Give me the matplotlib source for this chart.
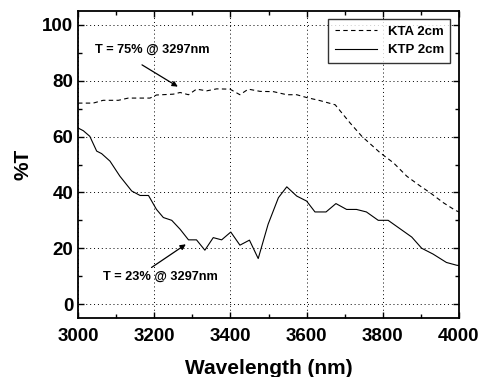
import matplotlib.pyplot as plt
from matplotlib.ticker import MultipleLocator

# KTA 2cm (dashed)
kta_wl = [3000, 3040, 3066, 3106, 3132, 3189, 3206, 3250, 3268, 3290, 3311, 3338,
          3364, 3399, 3425, 3447, 3478, 3513, 3548, 3574, 3600, 3635, 3675, 3714,
          3745, 3793, 3828, 3863, 3898, 3924, 3959, 3990, 4000]
kta_t = [72.0, 72.0, 73.0, 73.0, 73.8, 73.8, 74.9, 75.2, 75.8, 75.0, 77.0, 76.4,
         77.1, 77.0, 75.0, 77.0, 76.2, 76.1, 75.0, 75.0, 74.0, 72.9, 71.4, 64.9,
         60.1, 54.2, 50.6, 45.8, 42.3, 39.9, 36.3, 33.6, 33.0]

# KTP 2cm (solid)
ktp_wl = [3000, 3014, 3031, 3049, 3062, 3084, 3110, 3141, 3163, 3185, 3206, 3224,
          3246, 3268, 3290, 3311, 3333, 3355, 3377, 3401, 3425, 3450, 3473, 3499,
          3526, 3548, 3574, 3600, 3622, 3651, 3677, 3705, 3731, 3757, 3788, 3814,
          3845, 3876, 3902, 3932, 3967, 3994, 4000]
ktp_t = [63.1, 62.1, 60.1, 54.8, 53.9, 51.2, 45.8, 40.5, 38.9, 38.9, 33.9, 31.0,
         30.0, 26.8, 23.0, 23.0, 19.3, 23.8, 23.0, 25.8, 21.1, 22.9, 16.3, 28.6,
         38.1, 42.0, 38.7, 36.9, 33.0, 33.0, 36.0, 33.9, 33.9, 33.0, 30.0, 30.0,
         27.0, 24.0, 20.0, 17.9, 14.9, 13.9, 13.8]

plt.rcParams['font.family'] = ['Liberation Sans', 'DejaVu Sans']
plt.rcParams['font.weight'] = 'bold'

fig = plt.figure(figsize=(4.8, 3.77), dpi=100)
ax = fig.add_axes([78 / 480, 1 - 318 / 377, 381 / 480, 307 / 377])

ax.plot(kta_wl, kta_t, color='black', linestyle=(0, (4, 3)), linewidth=0.8, label='KTA 2cm')
ax.plot(ktp_wl, ktp_t, color='black', linestyle='-', linewidth=0.8, label='KTP 2cm')

ax.set_xlim(3000, 4000)
ax.set_ylim(-5, 105)
ax.xaxis.set_major_locator(MultipleLocator(200))
ax.xaxis.set_minor_locator(MultipleLocator(100))
ax.yaxis.set_major_locator(MultipleLocator(20))
ax.yaxis.set_minor_locator(MultipleLocator(10))
ax.tick_params(which='both', direction='in', top=True, right=True, labelsize=13.5)
ax.tick_params(which='major', length=4, width=1)
ax.tick_params(which='minor', length=3, width=1)
ax.tick_params(axis='x', pad=7)
ax.grid(True, which='major', color='black', linestyle=(0, (1, 3)), linewidth=0.7)
for s in ax.spines.values():
    s.set_linewidth(1.3)

ax.set_xlabel('Wavelength (nm)', fontsize=15, fontweight='bold', labelpad=10)
ax.set_ylabel('%T', fontsize=15, fontweight='bold', labelpad=7)

arrow = dict(arrowstyle='-|>', color='black', lw=0.9, mutation_scale=8,
             shrinkA=0, shrinkB=0)
ax.annotate('', xy=(3262, 77.9), xytext=(3168, 85.7), arrowprops=arrow)
ax.text(3045, 91, 'T = 75% @ 3297nm', fontsize=9.2, fontweight='bold', va='center')
ax.annotate('', xy=(3283, 21.4), xytext=(3193, 13.1), arrowprops=arrow)
ax.text(3066, 9.6, 'T = 23% @ 3297nm', fontsize=9.2, fontweight='bold', va='center')

leg = ax.legend(loc='upper right', fontsize=9.5, frameon=True, fancybox=False,
                edgecolor='black', handlelength=3.2, borderpad=0.5,
                labelspacing=0.45, bbox_to_anchor=(0.995, 0.995))
leg.get_frame().set_linewidth(1.0)

fig.savefig('out.png', dpi=100)
